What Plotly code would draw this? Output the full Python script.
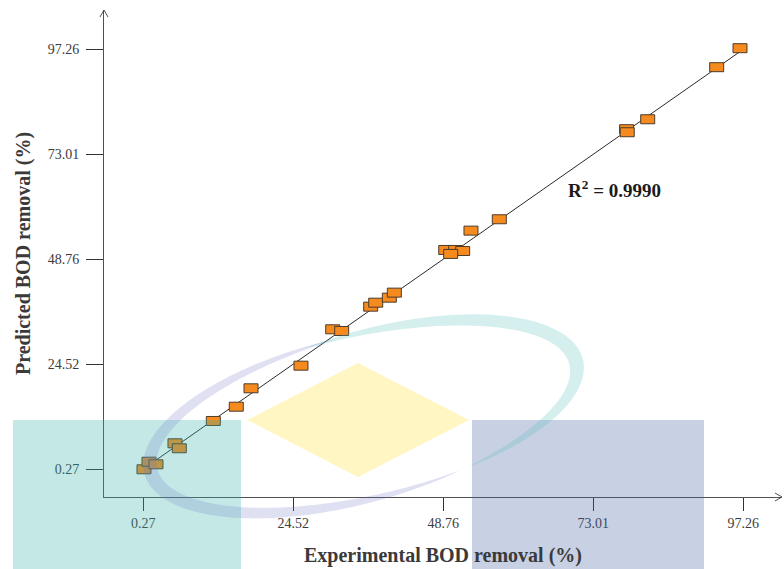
import numpy as np
import plotly.graph_objects as go

# Experimental vs. model-predicted BOD removal (%)
experimental = [0.38, 1.19, 2.32, 5.39, 6.09, 11.59, 15.30, 17.68, 25.76, 30.89,
                32.34, 37.03, 37.84, 40.04, 40.85, 49.16, 50.77, 51.90, 49.96,
                53.24, 57.82, 78.40, 78.50, 81.81, 92.96, 96.73]
predicted = [0.20, 1.96, 1.36, 6.21, 5.06, 11.37, 14.67, 18.92, 24.15, 32.56,
             32.17, 37.79, 38.71, 39.87, 41.03, 50.89, 50.89, 50.66, 49.97,
             55.36, 57.99, 78.80, 78.10, 81.10, 93.13, 97.52]

tick_values = [0.27, 24.52, 48.76, 73.01, 97.26]
tick_labels = ["0.27", "24.52", "48.76", "73.01", "97.26"]

# parity (y = x) line
fit_x = [0.27, 97.26]
fit_y = [0.27, 97.26]
r_squared = "0.9990"

W, H = 784, 569
ML, MR, MT, MB = 104, 2, 10, 72
PW, PH = W - ML - MR, H - MT - MB

SERIF = "Liberation Serif, Times New Roman, serif"
ORANGE = "#F58A1F"
EDGE = "#4d3b2b"
AXIS = "#505050"
TITLE_FONT = dict(family=SERIF, size=20, color="#3a3a3a")


def px(x):
    return (x - ML) / PW


def py(y):
    return (H - MB - y) / PH


def path_px(points, close=True):
    s = "M " + " L ".join(f"{px(a):.5f},{py(b):.5f}" for a, b in points)
    return s + (" Z" if close else "")


fig = go.Figure()

fig.add_trace(go.Scatter(
    x=fit_x, y=fit_y, mode="lines",
    line=dict(color="#2a2a2a", width=1),
    hoverinfo="skip", showlegend=False,
))

# invisible carrier for hover on the points
fig.add_trace(go.Scatter(
    x=experimental, y=predicted, mode="markers",
    marker=dict(size=12, symbol="square", opacity=0),
    hovertemplate="Experimental: %{x}<br>Predicted: %{y}<extra></extra>",
    showlegend=False,
))

shapes = []

# rectangular point markers, anchored at the data values
for xv, yv in zip(experimental, predicted):
    shapes.append(dict(
        type="rect", xref="x", yref="y",
        xsizemode="pixel", ysizemode="pixel",
        xanchor=xv, yanchor=yv,
        x0=-7, x1=7, y0=-4.5, y1=4.5,
        fillcolor=ORANGE, line=dict(color=EDGE, width=1),
        layer="above",
    ))

# axis arrowheads
x_end, y_axis = ML + PW, H - MB
shapes.append(dict(type="path", xref="paper", yref="paper",
                   path=path_px([(x_end - 7, y_axis - 4), (x_end, y_axis), (x_end - 7, y_axis + 4)], close=False),
                   line=dict(color=AXIS, width=1), layer="above"))
shapes.append(dict(type="path", xref="paper", yref="paper",
                   path=path_px([(ML - 4, MT + 7), (ML, MT), (ML + 4, MT + 7)], close=False),
                   line=dict(color=AXIS, width=1), layer="above"))

# translucent emblem drawn over the plot
ALPHA = 0.3


def rect_px(x0, y0, x1, y1, color):
    return dict(type="rect", xref="paper", yref="paper",
                x0=px(x0), x1=px(x1), y0=py(y1), y1=py(y0),
                fillcolor=color, opacity=ALPHA, line=dict(width=0),
                layer="above")


shapes.append(rect_px(13, 420, 241, 569, "rgb(55,178,172)"))
shapes.append(rect_px(472, 420, 704, 569, "rgb(72,98,165)"))

# diamond
dcx, dcy, dhw, dhh = 358, 420, 111, 57
diamond = [(dcx, dcy - dhh), (dcx + dhw, dcy), (dcx, dcy + dhh), (dcx - dhw, dcy)]
shapes.append(dict(
    type="path", xref="paper", yref="paper", path=path_px(diamond),
    fillcolor="rgb(255,225,60)", opacity=ALPHA, line=dict(width=0), layer="above",
))

# elliptical swooshes
ECX, ECY, EA, EB, ETH = 363.5, 416.5, 219.5, 82.0, np.deg2rad(14.5)


def swoosh(t0, t1, wmax, color, alpha, n=160):
    t = np.linspace(t0, t1, n)
    w = wmax * np.sin(np.pi * (t - t0) / (t1 - t0)) ** 0.8

    def edge(d):
        X = (EA + d) * np.cos(t)
        Y = (EB + d) * np.sin(t)
        xr = X * np.cos(ETH) - Y * np.sin(ETH)
        yr = X * np.sin(ETH) + Y * np.cos(ETH)
        return ECX + xr, ECY - yr

    ox, oy = edge(w / 2)
    ix, iy = edge(-w / 2)
    xs = np.concatenate([ox, ix[::-1]])
    ys = np.concatenate([oy, iy[::-1]])
    return dict(type="path", xref="paper", yref="paper", path=path_px(zip(xs, ys)),
                fillcolor=color, opacity=alpha, line=dict(width=0), layer="above")


shapes.append(swoosh(1.6, 5.08, 14, "rgb(110,120,200)", 0.22))
shapes.append(swoosh(-1.15, 1.75, 15, "rgb(80,190,190)", 0.24))

annotations = [
    dict(x=px(566), y=py(189), xref="paper", yref="paper",
         text=f"<b>R<sup>2</sup> = {r_squared}</b>", showarrow=False,
         xanchor="left", yanchor="middle",
         font=dict(family=SERIF, size=19, color="#1a1a1a")),
]

axis_common = dict(
    showgrid=False, zeroline=False, showline=True,
    linecolor=AXIS, linewidth=1, mirror=False,
    ticks="outside", tickcolor="#333333", tickwidth=1,
    tickvals=tick_values, ticktext=tick_labels,
    tickfont=dict(family=SERIF, size=14, color="#3c3c3c"),
)

fig.update_layout(
    width=W, height=H,
    margin=dict(l=ML, r=MR, t=MT, b=MB, pad=0),
    paper_bgcolor="white", plot_bgcolor="white",
    showlegend=False,
    xaxis=dict(range=[-6.083, 103.52], ticklen=13,
               title=dict(text="<b>Experimental BOD removal (%)</b>", font=TITLE_FONT, standoff=18),
               automargin=False, **axis_common),
    yaxis=dict(range=[-6.20, 106.35], ticklen=17, ticklabelstandoff=4,
               title=dict(text="<b>Predicted BOD removal (%)</b>", font=TITLE_FONT, standoff=11),
               automargin=False, **axis_common),
    shapes=shapes,
    annotations=annotations,
)

fig.write_html("out.html")
